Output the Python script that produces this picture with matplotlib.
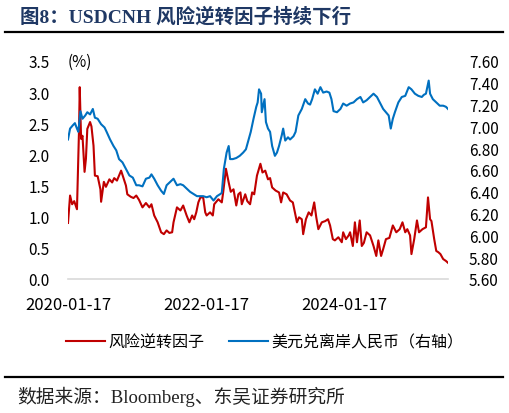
import matplotlib
matplotlib.use("Agg")
import matplotlib.pyplot as plt
import pandas as pd

# ---- data (decimal years) ----
rr_t = [2020.04, 2020.07, 2020.10, 2020.13, 2020.17, 2020.20, 2020.21, 2020.23, 2020.25, 2020.28,
        2020.30, 2020.32, 2020.36, 2020.38, 2020.41, 2020.43, 2020.47, 2020.51, 2020.52, 2020.56,
        2020.59, 2020.64, 2020.68, 2020.71, 2020.75, 2020.81, 2020.85, 2020.88, 2020.90, 2020.95,
        2020.99, 2021.03, 2021.07, 2021.12, 2021.17, 2021.22, 2021.25, 2021.29, 2021.34, 2021.39,
        2021.43, 2021.47, 2021.51, 2021.55, 2021.57, 2021.62, 2021.67, 2021.71, 2021.76, 2021.80,
        2021.84, 2021.87, 2021.90, 2021.93, 2021.96, 2022.00, 2022.03, 2022.05, 2022.10, 2022.14,
        2022.16, 2022.22, 2022.27, 2022.29, 2022.33, 2022.37, 2022.40, 2022.44, 2022.48, 2022.51,
        2022.54, 2022.56, 2022.61, 2022.64, 2022.68, 2022.71, 2022.74, 2022.78, 2022.83, 2022.86,
        2022.90, 2022.94, 2022.97, 2023.00, 2023.05, 2023.10, 2023.13, 2023.16, 2023.21, 2023.26,
        2023.30, 2023.33, 2023.36, 2023.39, 2023.43, 2023.45, 2023.49, 2023.53, 2023.57, 2023.61,
        2023.64, 2023.67, 2023.72, 2023.77, 2023.81, 2023.84, 2023.88, 2023.91, 2023.96, 2024.01,
        2024.03, 2024.07, 2024.11, 2024.13, 2024.17, 2024.20, 2024.23, 2024.27, 2024.30, 2024.33,
        2024.37, 2024.42, 2024.47, 2024.51, 2024.54, 2024.58, 2024.61, 2024.65, 2024.70, 2024.75,
        2024.80, 2024.85, 2024.89, 2024.93, 2024.96, 2025.00, 2025.02, 2025.06, 2025.10, 2025.13,
        2025.18, 2025.23, 2025.26, 2025.29, 2025.31, 2025.35, 2025.38, 2025.41, 2025.44, 2025.48,
        2025.52, 2025.55]
rr_v = [0.90, 1.34, 1.20, 1.25, 1.12, 2.40, 3.08, 2.25, 2.30, 1.72,
        1.93, 2.41, 2.52, 2.45, 2.14, 1.66, 1.65, 1.44, 1.24, 1.56,
        1.48, 1.60, 1.55, 1.62, 1.58, 1.74, 1.60, 1.50, 1.36, 1.32,
        1.30, 1.34, 1.27, 1.15, 1.22, 1.15, 1.20, 1.02, 0.91, 0.75,
        0.72, 0.78, 0.74, 0.75, 0.91, 1.15, 1.10, 1.18, 1.02, 0.91,
        1.02, 0.96, 1.07, 1.23, 1.31, 1.31, 1.07, 1.02, 1.07, 1.02,
        1.20, 1.28, 1.23, 1.39, 1.77, 1.55, 1.40, 1.44, 1.18, 1.36,
        1.39, 1.20, 1.36, 1.25, 1.20, 1.39, 1.36, 1.66, 1.85, 1.71,
        1.74, 1.60, 1.62, 1.47, 1.42, 1.39, 1.23, 1.39, 1.36, 1.26,
        1.23, 1.07, 0.91, 0.99, 0.96, 0.72, 0.96, 1.07, 1.02, 1.23,
        0.99, 0.80, 0.91, 0.93, 0.96, 0.86, 0.64, 0.62, 0.67, 0.59,
        0.75, 0.64, 0.70, 0.75, 0.53, 0.91, 0.59, 0.94, 0.53, 0.58,
        0.75, 0.70, 0.53, 0.37, 0.62, 0.37, 0.48, 0.64, 0.66, 0.86,
        0.75, 0.80, 0.91, 0.75, 0.80, 0.70, 0.40, 0.64, 0.94, 0.75,
        0.80, 0.83, 1.31, 0.96, 0.93, 0.64, 0.45, 0.43, 0.40, 0.32,
        0.29, 0.26]

fx_t = [2020.04, 2020.07, 2020.11, 2020.14, 2020.17, 2020.19, 2020.22, 2020.25, 2020.29, 2020.32,
        2020.36, 2020.40, 2020.43, 2020.47, 2020.52, 2020.57, 2020.60, 2020.65, 2020.70, 2020.74,
        2020.78, 2020.83, 2020.88, 2020.93, 2020.98, 2021.03, 2021.07, 2021.12, 2021.17, 2021.22,
        2021.25, 2021.29, 2021.34, 2021.39, 2021.43, 2021.47, 2021.52, 2021.57, 2021.62, 2021.67,
        2021.71, 2021.76, 2021.81, 2021.86, 2021.91, 2021.96, 2022.00, 2022.05, 2022.10, 2022.15,
        2022.20, 2022.25, 2022.27, 2022.30, 2022.34, 2022.37, 2022.39, 2022.43, 2022.48, 2022.53,
        2022.58, 2022.62, 2022.66, 2022.69, 2022.73, 2022.77, 2022.79, 2022.81, 2022.84, 2022.85,
        2022.89, 2022.91, 2022.94, 2022.97, 2023.00, 2023.04, 2023.07, 2023.10, 2023.14, 2023.16,
        2023.19, 2023.23, 2023.26, 2023.31, 2023.34, 2023.38, 2023.43, 2023.48, 2023.52, 2023.55,
        2023.58, 2023.62, 2023.66, 2023.70, 2023.74, 2023.79, 2023.83, 2023.86, 2023.89, 2023.94,
        2023.99, 2024.03, 2024.08, 2024.13, 2024.18, 2024.23, 2024.28, 2024.32, 2024.37, 2024.42,
        2024.47, 2024.52, 2024.57, 2024.61, 2024.65, 2024.69, 2024.72, 2024.75, 2024.78, 2024.83,
        2024.88, 2024.93, 2024.98, 2025.02, 2025.07, 2025.12, 2025.17, 2025.20, 2025.23, 2025.27,
        2025.29, 2025.33, 2025.38, 2025.43, 2025.48, 2025.52, 2025.55]
fx_v = [6.88, 6.98, 7.01, 7.03, 6.98, 6.95, 7.14, 7.07, 7.10, 7.13,
        7.11, 7.16, 7.08, 7.07, 7.02, 6.99, 6.95, 6.88, 6.82, 6.78,
        6.70, 6.67, 6.61, 6.55, 6.53, 6.46, 6.46, 6.45, 6.52, 6.53,
        6.56, 6.52, 6.46, 6.41, 6.38, 6.46, 6.49, 6.52, 6.46, 6.47,
        6.46, 6.43, 6.40, 6.38, 6.36, 6.36, 6.36, 6.35, 6.36, 6.32,
        6.36, 6.38, 6.39, 6.61, 6.76, 6.82, 6.70, 6.70, 6.71, 6.73,
        6.76, 6.79, 6.88, 6.95, 7.07, 7.18, 7.22, 7.34, 7.30, 7.13,
        7.25, 7.04, 6.98, 6.95, 6.82, 6.73, 6.76, 6.82, 6.92, 6.98,
        6.87, 6.90, 6.88, 6.91, 6.95, 7.10, 7.16, 7.25, 7.21, 7.20,
        7.25, 7.34, 7.30, 7.36, 7.31, 7.32, 7.31, 7.25, 7.14, 7.13,
        7.16, 7.21, 7.19, 7.21, 7.22, 7.25, 7.27, 7.22, 7.24, 7.27,
        7.30, 7.27, 7.21, 7.16, 7.13, 7.10, 6.98, 7.07, 7.13, 7.22,
        7.27, 7.28, 7.36, 7.34, 7.30, 7.28, 7.27, 7.29, 7.30, 7.42,
        7.30, 7.25, 7.22, 7.19, 7.19, 7.18, 7.16]

left_ticks = [0.0, 0.5, 1.0, 1.5, 2.0, 2.5, 3.0, 3.5]
right_ticks = [5.60, 5.80, 6.00, 6.20, 6.40, 6.60, 6.80, 7.00, 7.20, 7.40, 7.60]
x_tick_labels = ["2020-01-17", "2022-01-17", "2024-01-17"]
series_names = ["风险逆转因子", "美元兑离岸人民币（右轴）"]
title = "图8：USDCNH 风险逆转因子持续下行"
source = "数据来源：Bloomberg、东吴证券研究所"


def to_dates(ts):
    base = pd.Timestamp("2020-01-01")
    return [base + pd.to_timedelta((t - 2020.0) * 365.25, unit="D") for t in ts]


rr_d = to_dates(rr_t)
fx_d = to_dates(fx_t)

SANS = ["Noto Sans CJK SC", "DejaVu Sans"]
SERIF = ["Liberation Serif", "Noto Sans CJK SC", "DejaVu Sans"]
plt.rcParams["font.family"] = SANS

RED = "#C00000"
BLUE = "#0070C0"

fig = plt.figure(figsize=(5.09, 4.14), dpi=100)
ax = fig.add_axes([68 / 509, 1 - 280 / 414, (448 - 68) / 509, (280 - 62) / 414])
ax2 = ax.twinx()

l1, = ax.plot(rr_d, rr_v, color=RED, lw=1.5, zorder=3)
l2, = ax2.plot(fx_d, fx_v, color=BLUE, lw=1.5, zorder=2)

ax.set_ylim(0, 3.5)
ax2.set_ylim(5.6, 7.6)
ax.set_yticks(left_ticks)
ax.set_yticklabels([f"{v:.1f}" for v in left_ticks])
ax2.set_yticks(right_ticks)
ax2.set_yticklabels([f"{v:.2f}" for v in right_ticks])

ax.set_xlim(rr_d[0], rr_d[-1])
ax.set_xticks([pd.Timestamp(s) for s in x_tick_labels])
ax.set_xticklabels(x_tick_labels)

for a in (ax, ax2):
    for s in ("top", "left", "right", "bottom"):
        a.spines[s].set_visible(False)
    a.tick_params(length=0, labelsize=11, colors="black")
ax.spines["bottom"].set_visible(True)
ax.spines["bottom"].set_color("#D9D9D9")
ax.spines["bottom"].set_linewidth(1.2)
ax.tick_params(axis="y", pad=13)
ax2.tick_params(axis="y", pad=15)
ax.tick_params(axis="x", pad=12, labelsize=12)

ax.text(0.0, 1.0, "(%)", transform=ax.transAxes, fontsize=11, ha="left", va="center")

fig.legend([l1, l2], series_names, loc="center", bbox_to_anchor=(0.52, 1 - 343 / 414),
           ncol=2, frameon=False, fontsize=11.5, handlelength=2.4, columnspacing=1.6,
           handletextpad=0.2)

fig.text(20 / 509, 1 - 17 / 414, title, family=SERIF, fontweight="bold", fontsize=14,
         color="#1F3864", ha="left", va="center")
fig.add_artist(plt.Line2D([5 / 509, 503 / 509], [1 - 33 / 414] * 2, color="black", lw=1.6,
                          transform=fig.transFigure))
fig.add_artist(plt.Line2D([5 / 509, 503 / 509], [1 - 378 / 414] * 2, color="black", lw=1.6,
                          transform=fig.transFigure))
fig.text(17 / 509, 1 - 397 / 414, source, family=SERIF, fontsize=13.5, color="#222222",
         ha="left", va="center")

fig.savefig("out.png", dpi=100)
